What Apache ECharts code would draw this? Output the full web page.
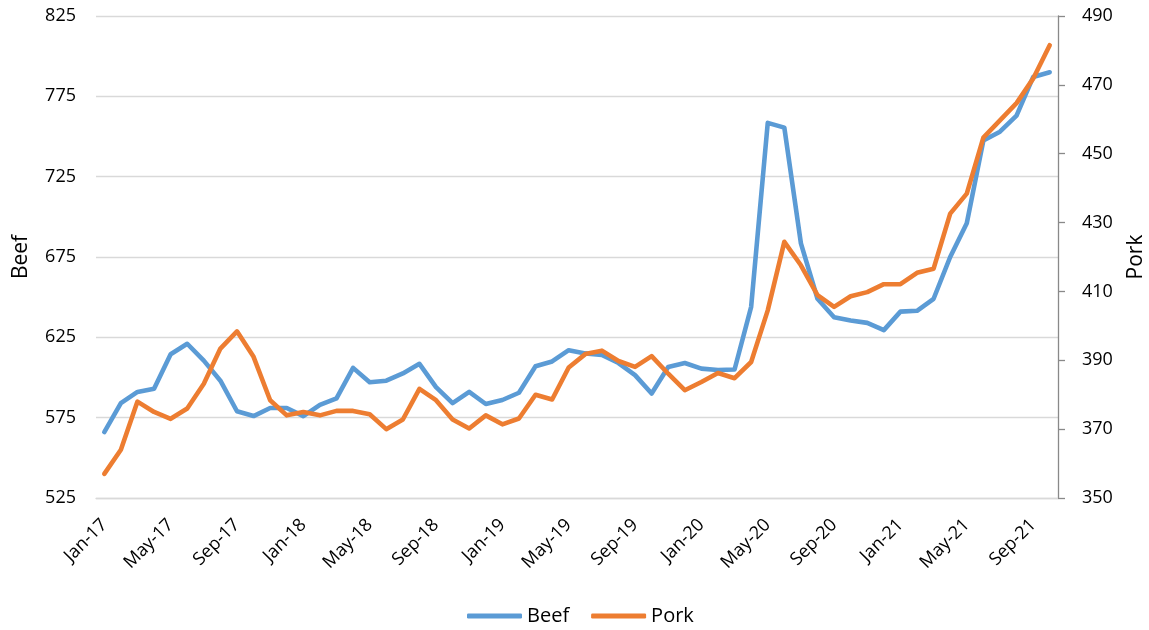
<!DOCTYPE html>
<html>
<head>
<meta charset="utf-8">
<title>Beef and Pork</title>
<script src="https://cdn.jsdelivr.net/npm/echarts@6/dist/echarts.min.js"></script>
<style>
  html, body { margin: 0; padding: 0; background: #ffffff; }
  #chart { width: 1149px; height: 630px; }
</style>
</head>
<body>
<div id="chart"></div>
<script>
// Monthly categories, Jan-17 .. Oct-21
const months = [
  'Jan-17','Feb-17','Mar-17','Apr-17','May-17','Jun-17','Jul-17','Aug-17','Sep-17','Oct-17','Nov-17','Dec-17',
  'Jan-18','Feb-18','Mar-18','Apr-18','May-18','Jun-18','Jul-18','Aug-18','Sep-18','Oct-18','Nov-18','Dec-18',
  'Jan-19','Feb-19','Mar-19','Apr-19','May-19','Jun-19','Jul-19','Aug-19','Sep-19','Oct-19','Nov-19','Dec-19',
  'Jan-20','Feb-20','Mar-20','Apr-20','May-20','Jun-20','Jul-20','Aug-20','Sep-20','Oct-20','Nov-20','Dec-20',
  'Jan-21','Feb-21','Mar-21','Apr-21','May-21','Jun-21','Jul-21','Aug-21','Sep-21','Oct-21'
];

// Beef (left axis)
const beef = [
  566, 584, 591, 593, 614.5, 621, 610.5, 598, 579, 576, 581, 581,
  576, 583, 587, 606, 597, 598, 602.5, 608.5, 594, 584, 591, 583.5,
  586, 590.5, 607, 610, 617, 615, 614, 609, 601.5, 590, 606.5, 609,
  605.5, 604.7, 605, 644, 758.5, 755.5, 683.5, 649, 637.5, 635.5, 634, 629.5,
  641, 641.5, 649, 675, 696, 747.5, 753, 763, 787, 790
];

// Pork (right axis)
const pork = [
  357, 364, 378, 375, 373, 376, 383.2, 393.4, 398.4, 391, 378.4, 374,
  375, 374, 375.3, 375.3, 374.3, 370, 372.8, 381.7, 378.4, 372.8, 370.2, 374,
  371.4, 373.1, 380, 378.6, 387.9, 391.8, 392.8, 389.8, 388.1, 391.2, 386.1, 381.3,
  383.7, 386.3, 384.8, 389.5, 404.5, 424.4, 417.6, 408.9, 405.5, 408.6, 409.8, 412.1,
  412.1, 415.4, 416.6, 432.6, 438.4, 454.7, 459.7, 464.7, 471.8, 481.5
];

// Axis ranges and label steps
const beefAxis = { min: 525, max: 825, step: 50 };
const porkAxis = { min: 350, max: 490, step: 20 };

const FONT = '"Open Sans", "Liberation Sans", sans-serif';
const GRID_COLOR = '#d9d9d9';
const AXIS_GRAY = '#898989';
const BLUE = '#5b9bd5';
const ORANGE = '#ed7d31';

const chart = echarts.init(document.getElementById('chart'), null, { renderer: 'canvas' });

const option = {
  backgroundColor: '#ffffff',
  animation: false,
  textStyle: { fontFamily: FONT, color: '#000' },
  grid: {
    left: 96, right: 91, top: 16, bottom: 132,
    containLabel: false,
    outerBoundsMode: 'none'
  },
  legend: {
    data: ['Beef', 'Pork'],
    left: 462,
    top: 601,
    icon: 'roundRect',
    itemWidth: 55,
    itemHeight: 5,
    itemGap: 22,
    textStyle: { fontFamily: FONT, fontSize: 20, color: '#000' }
  },
  xAxis: {
    type: 'category',
    data: months,
    boundaryGap: true,
    axisLine: { show: true, lineStyle: { color: GRID_COLOR, width: 1.3 } },
    axisTick: { show: false },
    axisLabel: {
      interval: 3,
      rotate: 45,
      margin: 24,
      fontFamily: FONT,
      fontSize: 18,
      color: '#000'
    },
    splitLine: { show: false }
  },
  yAxis: [
    {
      // Beef values; labels every 50 (half-steps left blank)
      type: 'value',
      position: 'left',
      min: beefAxis.min,
      max: beefAxis.max,
      interval: beefAxis.step / 2,
      name: 'Beef',
      nameLocation: 'middle',
      nameGap: 64,
      nameTextStyle: { fontFamily: FONT, fontSize: 21, color: '#000' },
      axisLine: { show: false },
      axisTick: { show: false },
      splitLine: { show: false },
      axisLabel: {
        margin: 20,
        fontFamily: FONT,
        fontSize: 18,
        color: '#000',
        formatter: v => ((v - beefAxis.min) % beefAxis.step === 0 ? String(v) : '')
      }
    },
    {
      // Pork values; labels every 20 (half-steps left blank)
      type: 'value',
      position: 'right',
      min: porkAxis.min,
      max: porkAxis.max,
      interval: porkAxis.step / 2,
      name: 'Pork',
      nameLocation: 'middle',
      nameGap: 68,
      nameTextStyle: { fontFamily: FONT, fontSize: 21, color: '#000' },
      axisLine: { show: false },
      axisTick: { show: false },
      splitLine: { show: false },
      axisLabel: {
        margin: 24,
        fontFamily: FONT,
        fontSize: 18,
        color: '#000',
        formatter: v => ((v - porkAxis.min) % porkAxis.step === 0 ? String(v) : '')
      }
    },
    {
      // horizontal gridlines at the Beef label steps
      type: 'value',
      position: 'left',
      min: 0,
      max: (beefAxis.max - beefAxis.min) / beefAxis.step,
      interval: 1,
      axisLine: { show: false },
      axisTick: { show: false },
      axisLabel: { show: false },
      splitLine: { show: true, lineStyle: { color: GRID_COLOR, width: 1.3 } }
    },
    {
      // right axis line with tick marks at the Pork label steps
      type: 'value',
      position: 'right',
      min: 0,
      max: (porkAxis.max - porkAxis.min) / porkAxis.step,
      interval: 1,
      axisLine: { show: true, lineStyle: { color: AXIS_GRAY, width: 1.3 } },
      axisTick: { show: true, inside: false, length: 7, lineStyle: { color: AXIS_GRAY, width: 1.3 } },
      axisLabel: { show: false },
      splitLine: { show: false }
    }
  ],
  series: [
    {
      name: 'Beef',
      type: 'line',
      yAxisIndex: 0,
      data: beef,
      symbol: 'none',
      smooth: false,
      itemStyle: { color: BLUE },
      lineStyle: { color: BLUE, width: 4.6, cap: 'round', join: 'round' },
      z: 3
    },
    {
      name: 'Pork',
      type: 'line',
      yAxisIndex: 1,
      data: pork,
      symbol: 'none',
      smooth: false,
      itemStyle: { color: ORANGE },
      lineStyle: { color: ORANGE, width: 4.6, cap: 'round', join: 'round' },
      z: 4
    }
  ]
};

chart.setOption(option);
</script>
</body>
</html>
